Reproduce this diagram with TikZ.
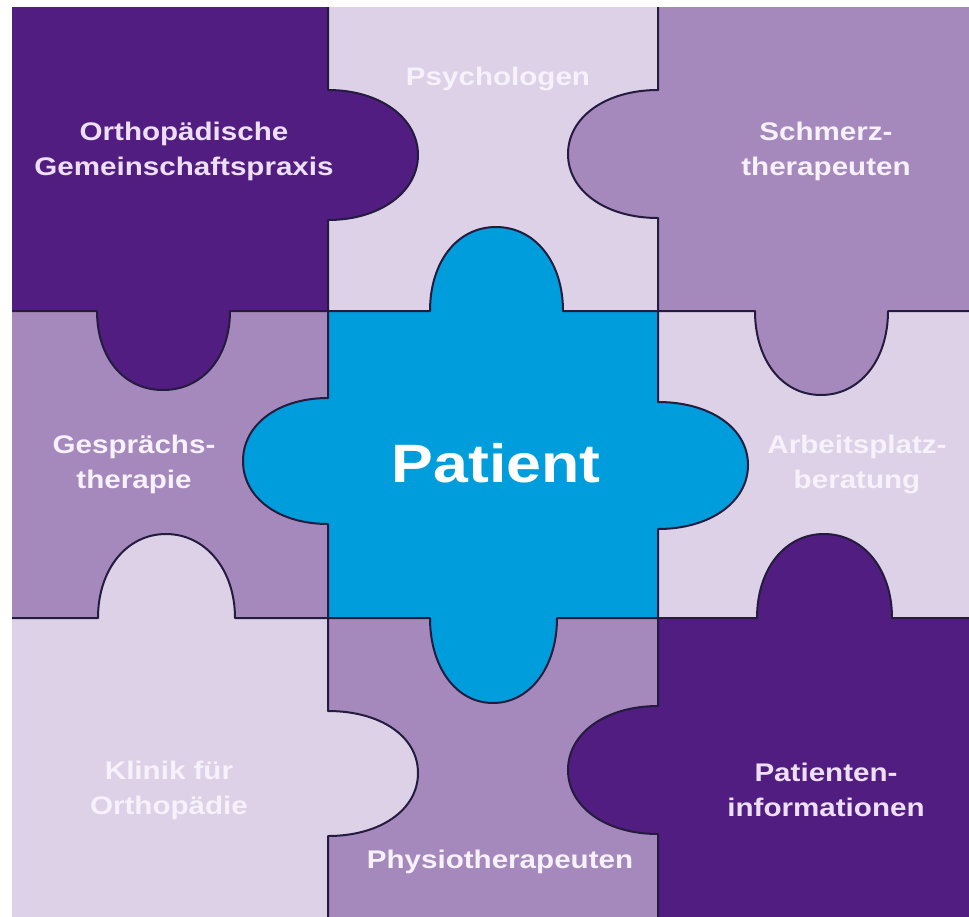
\documentclass[tikz,border=0pt]{standalone}
\usepackage{fontspec}
\setmainfont{Liberation Sans}[FakeStretch=1.16]

\definecolor{darkpiece}{HTML}{521D80}
\definecolor{midpiece}{HTML}{A689BC}
\definecolor{lightpiece}{HTML}{DDD1E8}
\definecolor{patientblue}{HTML}{009DDC}
\definecolor{seamcolor}{HTML}{231C3F}
\definecolor{darklabel}{HTML}{EDE0F6}
\definecolor{palelabel}{HTML}{F6F1FA}

\begin{document}
\begin{tikzpicture}[x=1pt, y=-1pt]
    \tikzstyle{puzzle piece} = [draw=seamcolor, line width=2pt, line join=round]
    \tikzstyle{piece label} = [align=center, anchor=base, inner sep=0pt, font=\fontsize{25.5}{35}\selectfont\bfseries]
\useasboundingbox (0,0) rectangle (969,916);
\fill[white] (0,0) rectangle (969,916);
\begin{scope}
\clip (12,7) rectangle (969,916);
% edge pieces, plain rectangles
\filldraw[puzzle piece, fill=lightpiece] (328,-5) rectangle (658,311);
\filldraw[puzzle piece, fill=midpiece] (-5,311) rectangle (328,618);
\filldraw[puzzle piece, fill=lightpiece] (658,311) rectangle (980,618);
\filldraw[puzzle piece, fill=midpiece] (328,618) rectangle (658,925);
% corner pieces with their knobs
\filldraw[puzzle piece, fill=darkpiece] (-5,-5) -- (328,-5) -- (328,90)
    .. controls +(52,0) and +(0,-37) .. (418,155)
    .. controls +(0,37) and +(52,0) .. (328,220) -- (328,311) -- (230,311)
    .. controls +(0,47) and +(39,0) .. (163,390)
    .. controls +(-39,0) and +(0,47) .. (97,311) -- (-5,311) -- cycle;
\filldraw[puzzle piece, fill=midpiece] (658,-5) -- (980,-5) -- (980,311) -- (888,311)
    .. controls +(0,49) and +(39,0) .. (821,395)
    .. controls +(-39,0) and +(0,49) .. (755,311) -- (658,311) -- (658,218)
    .. controls +(-52,0) and +(0,37) .. (568,154)
    .. controls +(0,-37) and +(-52,0) .. (658,90) -- cycle;
\filldraw[puzzle piece, fill=lightpiece] (-5,618) -- (98,618)
    .. controls +(0,-49) and +(-39,0) .. (166,534)
    .. controls +(39,0) and +(0,-49) .. (235,618) -- (328,618) -- (328,711)
    .. controls +(52,0) and +(0,-37) .. (418,773)
    .. controls +(0,37) and +(52,0) .. (328,836) -- (328,925) -- (-5,925) -- cycle;
\filldraw[puzzle piece, fill=darkpiece] (658,925) -- (658,834)
    .. controls +(-52,0) and +(0,37) .. (568,770)
    .. controls +(0,-37) and +(-52,0) .. (658,706) -- (658,618) -- (757,618)
    .. controls +(0,-49) and +(-39,0) .. (824,534)
    .. controls +(39,0) and +(0,-49) .. (892,618) -- (980,618) -- (980,925) -- cycle;
% centre piece, four knobs
\filldraw[puzzle piece, fill=patientblue] (328,311) -- (430,311)
    .. controls +(0,-49) and +(-39,0) .. (496,227)
    .. controls +(39,0) and +(0,-49) .. (563,311) -- (658,311) -- (658,402)
    .. controls +(52,0) and +(0,-37) .. (748,465)
    .. controls +(0,37) and +(52,0) .. (658,529) -- (658,618) -- (557,618)
    .. controls +(0,49) and +(37,0) .. (493,703)
    .. controls +(-37,0) and +(0,49) .. (430,618) -- (328,618) -- (328,524)
    .. controls +(-49,0) and +(0,37) .. (243,461)
    .. controls +(0,-37) and +(-49,0) .. (328,398) -- cycle;
\end{scope}
% labels, y is the baseline of the last line
\node[piece label, text=darklabel] (ortho) at (184,175) {Orthopädische\\Gemeinschaftspraxis};
\node[piece label, text=palelabel] (psychologen) at (498,85) {Psychologen};
\node[piece label, text=palelabel] (schmerz) at (826,175) {Schmerz-\\therapeuten};
\node[piece label, text=palelabel] (gespraech) at (134,488) {Gesprächs-\\therapie};
\node[piece label, text=white, font=\fontsize{54}{60}\selectfont\bfseries] (patient) at (496,482) {Patient};
\node[piece label, text=palelabel] (arbeit) at (857,488) {Arbeitsplatz-\\beratung};
\node[piece label, text=palelabel] (klinik) at (169,814) {Klinik für\\Orthopädie};
\node[piece label, text=palelabel] (physio) at (500,868) {Physiotherapeuten};
\node[piece label, text=darklabel] (patinfo) at (826,816) {Patienten-\\informationen};
\end{tikzpicture}
\end{document}
